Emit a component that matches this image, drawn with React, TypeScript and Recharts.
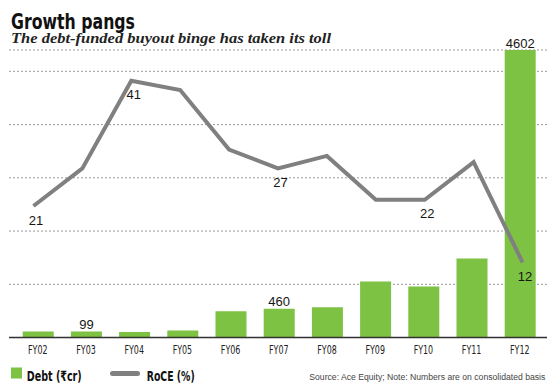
import React from 'react';
import { ComposedChart, Bar, Line, XAxis, YAxis, CartesianGrid, LabelList } from 'recharts';

const years = ['FY02', 'FY03', 'FY04', 'FY05', 'FY06', 'FY07', 'FY08', 'FY09', 'FY10', 'FY11', 'FY12'];
const debt = [96, 99, 90, 112, 423, 460, 487, 899, 818, 1264, 4602];
const roce = [21, 27, 41, 39.5, 30, 27, 29, 22, 22, 28, 12];
const debtLabelIdx = [1, 5, 10];
const roceLabelIdx = [0, 2, 5, 8, 10];
const gridTicks = [8.5, 17, 25.5, 34, 42.5];

const data = years.map((year, i) => ({
  year,
  debt: debt[i],
  roce: roce[i],
  debtLabel: debtLabelIdx.includes(i) ? String(debt[i]) : null,
  roceLabel: roceLabelIdx.includes(i) ? String(roce[i]) : null,
}));

const GREEN = '#7dc243';
const GRAY = '#808080';
const NARROW = '"Liberation Sans Narrow", "DejaVu Sans Condensed", Arial, sans-serif';
const SANS = '"Liberation Sans", Arial, sans-serif';

const Tick = (props: any) => {
  const { x, y, payload } = props;
  return (
    <text x={x} y={y + 8.5} textAnchor="middle" fontSize={13} fontFamily={NARROW} fill="#222"
      textLength={19.5} lengthAdjust="spacingAndGlyphs">
      {payload.value}
    </text>
  );
};

const barLabel = (props: any) => {
  const { x, y, width, value } = props;
  if (value === null || value === undefined || value === '') return null;
  return (
    <text x={Number(x) + Number(width) / 2} y={Number(y) - 2.5} textAnchor="middle" fontSize={13}
      fontFamily={SANS} fill="#151515">
      {value}
    </text>
  );
};

const lineLabel = (props: any) => {
  const { x, y, value } = props;
  if (value === null || value === undefined || value === '') return null;
  return (
    <text x={Number(x) + 2.5} y={Number(y) + 18.5} textAnchor="middle" fontSize={13}
      fontFamily={SANS} fill="#151515">
      {value}
    </text>
  );
};

export default function App() {
  return (
    <div style={{ position: 'absolute', left: 0, top: 0, width: 550, height: 389, background: '#fff', overflow: 'hidden' }}>
      <svg width={550} height={389} style={{ position: 'absolute', left: 0, top: 0 }}>
        <text x={11} y={29.3} fontSize={22} fontWeight="bold" fontFamily={NARROW} fill="#111"
          textLength={124} lengthAdjust="spacingAndGlyphs">Growth pangs</text>
        <text x={11} y={42.5} fontSize={14} fontWeight="bold" fontStyle="italic"
          fontFamily='"Liberation Serif", "DejaVu Serif", serif' fill="#222"
          textLength={320} lengthAdjust="spacingAndGlyphs">The debt-funded buyout binge has taken its toll</text>
        <rect x={11} y={367.5} width={11} height={11} fill={GREEN} />
        <text x={26.7} y={381} fontSize={14} fontWeight="bold" fontFamily={NARROW} fill="#111"
          textLength={55} lengthAdjust="spacingAndGlyphs">Debt (₹cr)</text>
        <rect x={110} y={371} width={30} height={5} rx={2.5} fill={GRAY} />
        <text x={146.7} y={381} fontSize={14} fontWeight="bold" fontFamily={NARROW} fill="#111"
          textLength={48} lengthAdjust="spacingAndGlyphs">RoCE (%)</text>
        <text x={309.3} y={379.5} fontSize={8.5} fontFamily={SANS} fill="#444"
          textLength={236} lengthAdjust="spacingAndGlyphs">Source: Ace Equity; Note: Numbers are on consolidated basis</text>
      </svg>
      <div style={{ position: 'absolute', left: 0, top: 0 }}>
        <ComposedChart width={550} height={389} data={data} margin={{ top: 50, right: 3, left: 9, bottom: 27.4 }}>
          <CartesianGrid vertical={false} stroke="#9a9a9a" strokeDasharray="2 2" />
          <XAxis xAxisId={0} dataKey="year" hide orientation="top" height={0} tick={false} axisLine={false} scale="band" />
          <XAxis xAxisId="bar" dataKey="year" scale="band" padding={{ left: 4.7, right: 3.1 }} height={24}
            axisLine={{ stroke: '#333', strokeWidth: 1.5 }} tickLine={false} tick={<Tick />} interval={0} />
          <YAxis yAxisId={0} hide type="number" domain={[0, 45.9]} ticks={gridTicks} allowDataOverflow />
          <YAxis yAxisId="debt" hide type="number" domain={[0, 4602]} ticks={[0, 4602]} allowDataOverflow />
          <Bar xAxisId="bar" yAxisId="debt" dataKey="debt" fill={GREEN} barSize={31} isAnimationActive={false}>
            <LabelList dataKey="debtLabel" content={barLabel} />
          </Bar>
          <Line xAxisId={0} yAxisId={0} type="linear" dataKey="roce" stroke={GRAY} strokeWidth={4}
            dot={false} activeDot={false} isAnimationActive={false}>
            <LabelList dataKey="roceLabel" content={lineLabel} />
          </Line>
        </ComposedChart>
      </div>
    </div>
  );
}
